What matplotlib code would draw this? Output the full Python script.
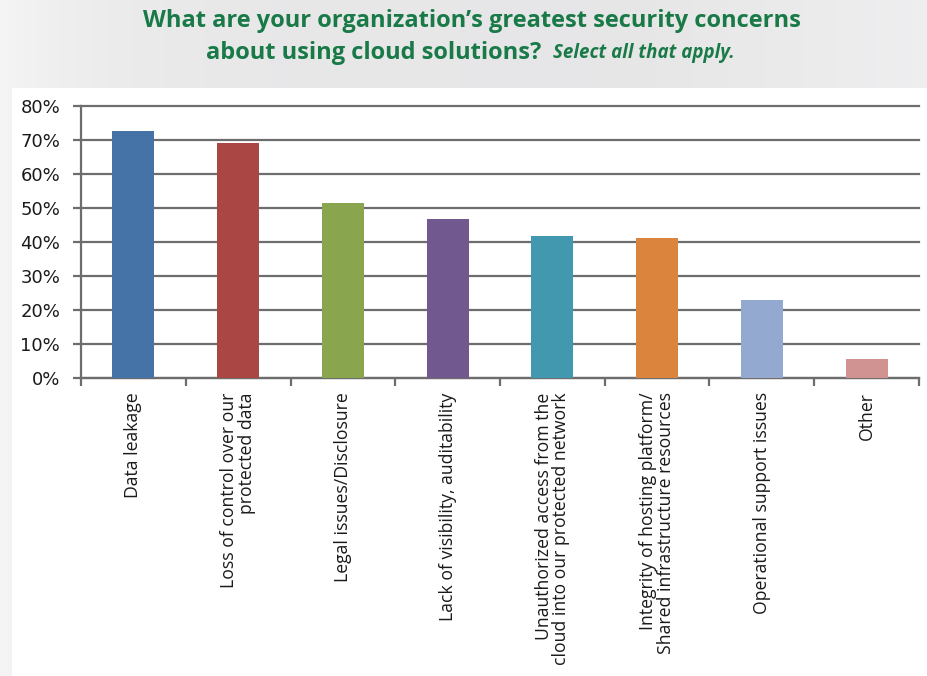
import matplotlib
matplotlib.use("Agg")
import matplotlib.pyplot as plt
import numpy as np
from matplotlib.patches import Rectangle

# Survey results: share of respondents naming each concern
categories = [
    "Data leakage",
    "Loss of control over our\nprotected data",
    "Legal issues/Disclosure",
    "Lack of visibility, auditability",
    "Unauthorized access from the\ncloud into our protected network",
    "Integrity of hosting platform/\nShared infrastructure resources",
    "Operational support issues",
    "Other",
]
values = [72.7, 69.2, 51.5, 46.8, 41.8, 41.2, 22.9, 5.6]
bar_colors = ["#4572a7", "#aa4643", "#89a54e", "#71588f",
              "#4198af", "#db843d", "#93a9cf", "#d19392"]
y_ticks = [0, 10, 20, 30, 40, 50, 60, 70, 80]
y_tick_labels = [f"{t}%" for t in y_ticks]

title_line1 = "What are your organization\u2019s greatest security concerns"
title_line2_main = "about using cloud solutions?"
title_line2_note = "Select all that apply."

W, H = 927, 676
fig = plt.figure(figsize=(W / 100, H / 100), dpi=100)
fig.patch.set_facecolor("#e7e8e9")

# Soft grey backdrop, lighter at the left edge
bg = fig.add_axes([0, 0, 1, 1], zorder=-10)
bg.set_axis_off()
xs = np.linspace(0, 1, W)
shade = 0.905 + 0.055 * np.exp(-xs / 0.12) + 0.03 * np.clip((xs - 0.7) / 0.3, 0, 1)
img = np.tile(shade, (H, 1))
bg.imshow(np.dstack([img, img, img * 1.005]).clip(0, 1), extent=[0, W, H, 0], aspect="auto")
bg.add_patch(Rectangle((12, 88), W - 12, H - 88, facecolor="white", edgecolor="none"))
bg.set_xlim(0, W)
bg.set_ylim(H, 0)

# Title
green = "#197a48"
title_font = ["Open Sans", "DejaVu Sans"]
fig.text(0.509, 1 - 21 / H, title_line1, ha="center", va="center",
         fontsize=17, fontweight="bold", color=green, family=title_font)
t_main = fig.text(0, 1 - 53 / H, title_line2_main, ha="left", va="center",
                  fontsize=17, fontweight="bold", color=green, family=title_font)
t_note = fig.text(0, 1 - 53 / H, title_line2_note, ha="left", va="center",
                  fontsize=13.5, fontweight="bold", fontstyle="italic", color=green,
                  family=title_font)
fig.canvas.draw()
r = fig.canvas.get_renderer()
w_main = t_main.get_window_extent(r).width
w_note = t_note.get_window_extent(r).width
gap = 12
start = 470 - (w_main + gap + w_note) / 2
t_main.set_x(start / W)
t_note.set_x((start + w_main + gap) / W)

# Chart
left, right, top, bottom = 81, 919, 105.7, 378.3
ax = fig.add_axes([left / W, 1 - bottom / H, (right - left) / W, (bottom - top) / H])
ax.set_facecolor("none")
x = np.arange(len(categories)) + 0.5
ax.bar(x, values, width=0.4, color=bar_colors, zorder=3)
ax.set_xlim(0, len(categories))
ax.set_ylim(0, 80)

grid_c = "#6d6d6d"
ax.set_yticks(y_ticks)
ax.set_yticklabels(y_tick_labels, fontsize=13, color="#1a1a1a", family="DejaVu Sans")
ax.yaxis.grid(True, color=grid_c, lw=1.6, zorder=1)
for gl in ax.get_ygridlines():
    gl.set_clip_on(False)
ax.set_xticks(np.arange(len(categories) + 1))
ax.set_xticklabels([])
ax.tick_params(axis="both", direction="out", length=6, width=1.6, color=grid_c)
ax.tick_params(axis="y", pad=9)
for s in ("top", "right"):
    ax.spines[s].set_visible(False)
for s in ("left", "bottom"):
    ax.spines[s].set_color(grid_c)
    ax.spines[s].set_linewidth(1.6)

for xi, lab in zip(x, categories):
    ax.annotate(lab, xy=(xi, 0), xycoords=("data", "axes fraction"),
                xytext=(0, -14), textcoords="offset pixels",
                rotation=90, ha="center", va="top", multialignment="right",
                fontsize=12.7, color="#1a1a1a", family=["Open Sans", "DejaVu Sans"],
                linespacing=0.95)

fig.savefig("out.png", dpi=100, facecolor=fig.get_facecolor())
